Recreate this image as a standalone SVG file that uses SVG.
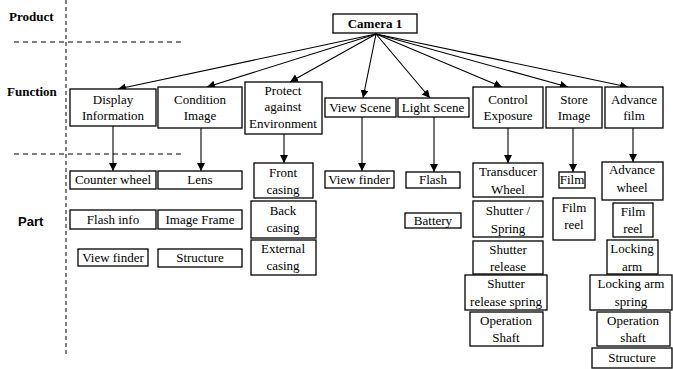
<svg xmlns="http://www.w3.org/2000/svg" width="673" height="369" viewBox="0 0 673 369">
<defs>
<marker id="ah" markerUnits="userSpaceOnUse" markerWidth="9" markerHeight="9" refX="8" refY="4" orient="auto"><path d="M0,0 L8,4 L0,8 z" fill="#000"/></marker>
<style>
rect{fill:#fff;stroke:#000;stroke-width:1.3}
text{font-size:13px;fill:#000;text-anchor:middle}
.lab{font-weight:bold;text-anchor:start}
.dash{stroke:#000;stroke-width:1;stroke-dasharray:5,4;fill:none}
#connectors line{stroke:#000;stroke-width:1.1;marker-end:url(#ah)}
</style>
</defs>
<rect x="0" y="0" width="673" height="369" style="stroke:none"/>
<g id="diagram" font-family="Liberation Serif, DejaVu Serif, serif">
<g id="guides">
<line class="dash" x1="66" y1="0" x2="66" y2="357" style="stroke-dasharray:4,3"/>
<line class="dash" x1="14" y1="42" x2="185" y2="42"/>
<line class="dash" x1="14" y1="154" x2="185" y2="154"/>
<text class="lab" x="9" y="21">Product</text>
<text class="lab" x="7" y="96">Function</text>
<text class="lab" x="18" y="226" font-family="Liberation Sans, Arial, sans-serif">Part</text>
</g>
<g id="connectors">
<line x1="376" y1="34" x2="118" y2="89"/>
<line x1="376" y1="34" x2="207" y2="87"/>
<line x1="376" y1="34" x2="290" y2="82"/>
<line x1="376" y1="34" x2="363" y2="98"/>
<line x1="376" y1="34" x2="430" y2="98"/>
<line x1="376" y1="34" x2="502" y2="87"/>
<line x1="376" y1="34" x2="568" y2="87"/>
<line x1="376" y1="34" x2="628" y2="87"/>
<line x1="113" y1="126" x2="113" y2="171"/>
<line x1="201" y1="128" x2="201" y2="171"/>
<line x1="284" y1="134" x2="284" y2="163"/>
<line x1="362" y1="117" x2="362" y2="171"/>
<line x1="434" y1="117" x2="434" y2="172"/>
<line x1="508" y1="128" x2="508" y2="163"/>
<line x1="573" y1="128" x2="573" y2="172"/>
<line x1="633" y1="128" x2="633" y2="162"/>
</g>
<g id="camera1"><rect x="333" y="14" width="84" height="19"/><text x="375" y="28" font-weight="bold">Camera 1</text></g>
<g id="f-display"><rect x="70" y="89" width="86" height="37"/><text x="113" y="104">Display</text><text x="113" y="120">Information</text></g>
<g id="f-condition"><rect x="158" y="87" width="84" height="41"/><text x="200" y="104">Condition</text><text x="200" y="120">Image</text></g>
<g id="f-protect"><rect x="245" y="82" width="77" height="52"/><text x="283" y="95">Protect</text><text x="283" y="111">against</text><text x="283" y="128">Environment</text></g>
<g id="f-view"><rect x="325" y="98" width="71" height="19"/><text x="360" y="112">View Scene</text></g>
<g id="f-light"><rect x="398" y="98" width="71" height="19"/><text x="433" y="112">Light Scene</text></g>
<g id="f-control"><rect x="473" y="87" width="70" height="41"/><text x="508" y="104">Control</text><text x="508" y="120">Exposure</text></g>
<g id="f-store"><rect x="546" y="87" width="56" height="41"/><text x="574" y="104">Store</text><text x="574" y="120">Image</text></g>
<g id="f-advance"><rect x="605" y="87" width="58" height="41"/><text x="634" y="104">Advance</text><text x="634" y="120">film</text></g>
<g id="p-counter"><rect x="70" y="171" width="86" height="18"/><text x="113" y="184">Counter wheel</text></g>
<g id="p-lens"><rect x="158" y="171" width="84" height="18"/><text x="200" y="184">Lens</text></g>
<g id="p-front"><rect x="254" y="163" width="59" height="35"/><text x="283" y="177">Front</text><text x="283" y="194">casing</text></g>
<g id="p-flashinfo"><rect x="70" y="210" width="86" height="19"/><text x="113" y="224">Flash info</text></g>
<g id="p-imageframe"><rect x="158" y="210" width="84" height="19"/><text x="200" y="224">Image Frame</text></g>
<g id="p-back"><rect x="251" y="201" width="65" height="37"/><text x="283" y="215">Back</text><text x="283" y="232">casing</text></g>
<g id="p-viewfinder1"><rect x="78" y="249" width="70" height="17"/><text x="113" y="262">View finder</text></g>
<g id="p-structure1"><rect x="158" y="249" width="84" height="18"/><text x="200" y="262">Structure</text></g>
<g id="p-external"><rect x="251" y="240" width="65" height="35"/><text x="283" y="253">External</text><text x="283" y="270">casing</text></g>
<g id="p-viewfinder2"><rect x="325" y="171" width="69" height="17"/><text x="359" y="184">View finder</text></g>
<g id="p-flash"><rect x="406" y="172" width="54" height="16"/><text x="433" y="184">Flash</text></g>
<g id="p-battery"><rect x="405" y="213" width="56" height="15"/><text x="433" y="225">Battery</text></g>
<g id="p-transducer"><rect x="473" y="163" width="70" height="34"/><text x="508" y="176">Transducer</text><text x="508" y="194">Wheel</text></g>
<g id="p-shutterspring"><rect x="473" y="201" width="70" height="36"/><text x="508" y="215">Shutter /</text><text x="508" y="233">Spring</text></g>
<g id="p-shutterrelease"><rect x="473" y="241" width="70" height="33"/><text x="508" y="254">Shutter</text><text x="508" y="271">release</text></g>
<g id="p-releasespring"><rect x="465" y="275" width="82" height="35"/><text x="506" y="288">Shutter</text><text x="506" y="306">release spring</text></g>
<g id="p-opshaft1"><rect x="470" y="312" width="73" height="34"/><text x="506" y="325">Operation</text><text x="506" y="342">Shaft</text></g>
<g id="p-film"><rect x="559" y="172" width="26" height="16"/><text x="572" y="184">Film</text></g>
<g id="p-filmreel1"><rect x="553" y="198" width="42" height="42"/><text x="574" y="212">Film</text><text x="574" y="229">reel</text></g>
<g id="p-advancewheel"><rect x="602" y="162" width="61" height="38"/><text x="632" y="174">Advance</text><text x="632" y="192">wheel</text></g>
<g id="p-filmreel2"><rect x="613" y="203" width="40" height="34"/><text x="633" y="216">Film</text><text x="633" y="233">reel</text></g>
<g id="p-lockingarm"><rect x="607" y="240" width="51" height="34"/><text x="632" y="253">Locking</text><text x="632" y="271">arm</text></g>
<g id="p-lockingspring"><rect x="590" y="275" width="82" height="35"/><text x="631" y="288">Locking arm</text><text x="631" y="306">spring</text></g>
<g id="p-opshaft2"><rect x="597" y="312" width="73" height="34"/><text x="633" y="325">Operation</text><text x="633" y="342">shaft</text></g>
<g id="p-structure2"><rect x="592" y="348" width="80" height="20"/><text x="632" y="362">Structure</text></g>
</g>
</svg>
